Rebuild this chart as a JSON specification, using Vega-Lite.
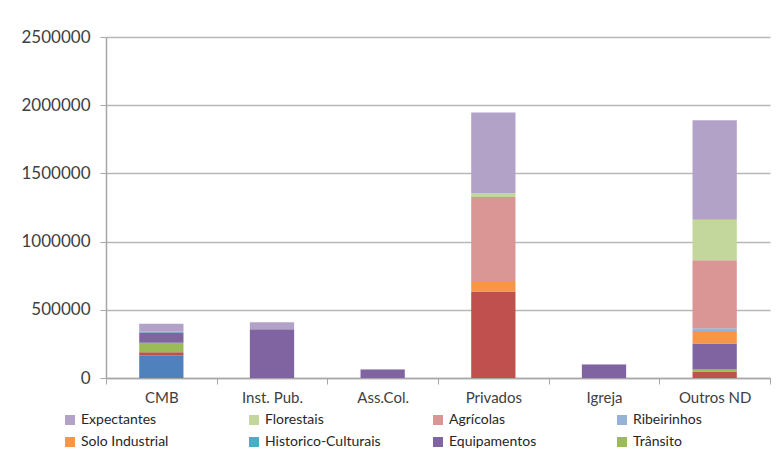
{
  "$schema": "https://vega.github.io/schema/vega-lite/v6.json",
  "width": 664,
  "height": 341,
  "autosize": {"type": "none"},
  "padding": {"left": 106, "top": 37, "right": 6, "bottom": 72},
  "background": "white",
  "config": {"view": {"stroke": null}, "font": "Lato"},
  "data": {
    "values": [
      {"entidade": "CMB", "categoria": "Espaços Verdes", "ordem": 1, "area": 166000},
      {"entidade": "CMB", "categoria": "Habitacionais", "ordem": 2, "area": 22000},
      {"entidade": "CMB", "categoria": "Trânsito", "ordem": 3, "area": 70000},
      {"entidade": "CMB", "categoria": "Equipamentos", "ordem": 4, "area": 76000},
      {"entidade": "CMB", "categoria": "Historico-Culturais", "ordem": 5, "area": 7000},
      {"entidade": "CMB", "categoria": "Expectantes", "ordem": 10, "area": 56000},
      {"entidade": "Inst. Pub.", "categoria": "Equipamentos", "ordem": 4, "area": 357000},
      {"entidade": "Inst. Pub.", "categoria": "Expectantes", "ordem": 10, "area": 51000},
      {"entidade": "Ass.Col.", "categoria": "Equipamentos", "ordem": 4, "area": 62000},
      {"entidade": "Ass.Col.", "categoria": "Expectantes", "ordem": 10, "area": 4000},
      {"entidade": "Privados", "categoria": "Habitacionais", "ordem": 2, "area": 635000},
      {"entidade": "Privados", "categoria": "Solo Industrial", "ordem": 6, "area": 76000},
      {"entidade": "Privados", "categoria": "Agrícolas", "ordem": 8, "area": 616000},
      {"entidade": "Privados", "categoria": "Florestais", "ordem": 9, "area": 29000},
      {"entidade": "Privados", "categoria": "Expectantes", "ordem": 10, "area": 591000},
      {"entidade": "Igreja", "categoria": "Equipamentos", "ordem": 4, "area": 99000},
      {"entidade": "Igreja", "categoria": "Expectantes", "ordem": 10, "area": 3000},
      {"entidade": "Outros ND", "categoria": "Habitacionais", "ordem": 2, "area": 47000},
      {"entidade": "Outros ND", "categoria": "Trânsito", "ordem": 3, "area": 15000},
      {"entidade": "Outros ND", "categoria": "Equipamentos", "ordem": 4, "area": 191000},
      {"entidade": "Outros ND", "categoria": "Solo Industrial", "ordem": 6, "area": 92000},
      {"entidade": "Outros ND", "categoria": "Ribeirinhos", "ordem": 7, "area": 20000},
      {"entidade": "Outros ND", "categoria": "Agrícolas", "ordem": 8, "area": 498000},
      {"entidade": "Outros ND", "categoria": "Florestais", "ordem": 9, "area": 298000},
      {"entidade": "Outros ND", "categoria": "Expectantes", "ordem": 10, "area": 728000}
    ]
  },
  "mark": {"type": "bar", "width": {"band": 0.4}},
  "encoding": {
    "x": {
      "field": "entidade",
      "type": "nominal",
      "sort": ["CMB", "Inst. Pub.", "Ass.Col.", "Privados", "Igreja", "Outros ND"],
      "scale": {"paddingInner": 0, "paddingOuter": 0},
      "axis": {
        "title": null,
        "labelAngle": 0,
        "tickBand": "extent",
        "domainColor": "#a6a6a6",
        "domainWidth": 1.5,
        "tickColor": "#a6a6a6",
        "tickSize": 6,
        "labelFontSize": 15,
        "labelColor": "#404040",
        "labelPadding": 6,
        "grid": false
      }
    },
    "y": {
      "field": "area",
      "type": "quantitative",
      "stack": "zero",
      "scale": {"domain": [0, 2500000]},
      "axis": {
        "title": null,
        "values": [0, 500000, 1000000, 1500000, 2000000, 2500000],
        "format": "d",
        "gridColor": "#b8b8b8",
        "gridWidth": 1.5,
        "domainColor": "#a6a6a6",
        "domainWidth": 1.5,
        "tickColor": "#a6a6a6",
        "tickSize": 6,
        "labelFontSize": 17,
        "labelColor": "#404040",
        "labelPadding": 10
      }
    },
    "color": {
      "field": "categoria",
      "type": "nominal",
      "scale": {
        "domain": ["Espaços Verdes", "Habitacionais", "Trânsito", "Equipamentos", "Historico-Culturais", "Solo Industrial", "Ribeirinhos", "Agrícolas", "Florestais", "Expectantes"],
        "range": ["#4F81BD", "#C0504D", "#9BBB59", "#8064A2", "#4BACC6", "#F79646", "#95B3D7", "#D99694", "#C3D69B", "#B3A2C7"]
      },
      "legend": {
        "values": ["Expectantes", "Florestais", "Agrícolas", "Ribeirinhos", "Solo Industrial", "Historico-Culturais", "Equipamentos", "Trânsito"],
        "title": null,
        "orient": "none",
        "legendX": -43,
        "legendY": 376,
        "direction": "horizontal",
        "columns": 4,
        "gridAlign": "all",
        "columnPadding": 50,
        "rowPadding": 8,
        "symbolType": "square",
        "symbolSize": 100,
        "symbolStrokeWidth": 0,
        "symbolOpacity": 1,
        "labelFontSize": 14,
        "labelColor": "#262626",
        "labelOffset": 4,
        "labelLimit": 200
      }
    },
    "order": {"field": "ordem", "type": "quantitative"}
  }
}
